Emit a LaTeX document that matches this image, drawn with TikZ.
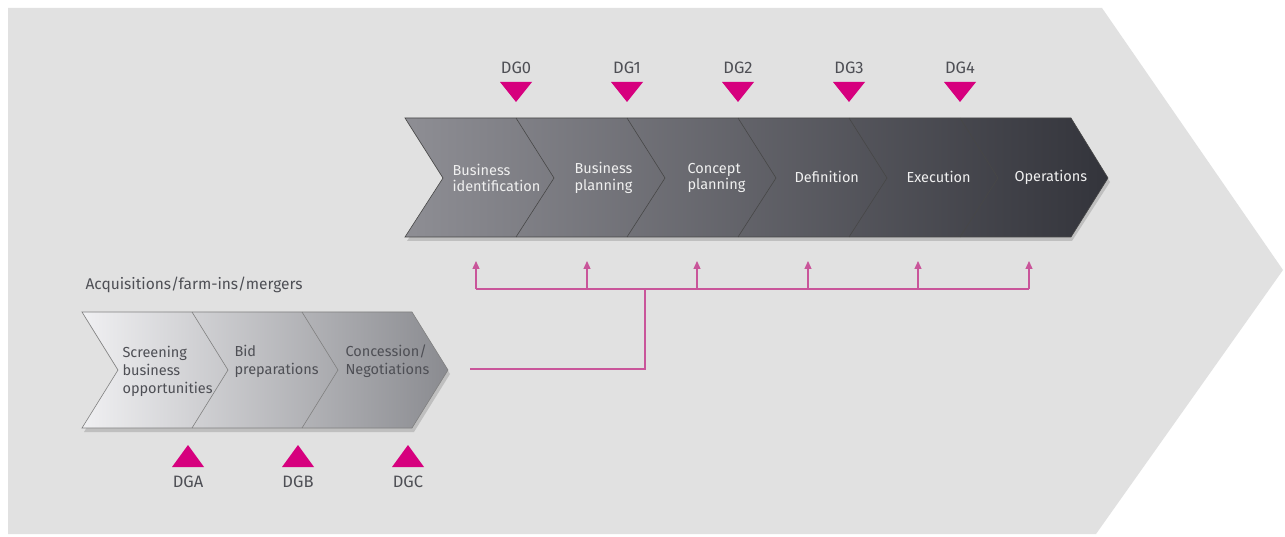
\documentclass[tikz,border=0pt]{standalone}
\usepackage{fontspec}
\setmainfont{Fira Sans}
\usetikzlibrary{arrows.meta,positioning}

\definecolor{bggrey}{HTML}{E1E1E1}
\definecolor{gatepink}{HTML}{D6007E}
\definecolor{linkpink}{HTML}{C9559A}
\definecolor{labelgrey}{HTML}{4E4F55}
\definecolor{upleft}{HTML}{8E8E94}
\definecolor{upright}{HTML}{33343B}
\definecolor{lowleft}{HTML}{F0F0F2}
\definecolor{lowright}{HTML}{8A8B90}

\begin{document}
\begin{tikzpicture}[x=1pt,y=-1pt,
  gate/.style={fill=gatepink},
  gatelabel/.style={text=labelgrey,font=\fontsize{16.5}{18}\selectfont},
  upstep/.style={text=white!94!black,align=left,anchor=west,font=\fontsize{14.5}{16.5}\selectfont},
  lowstep/.style={text=labelgrey,align=left,anchor=west,font=\fontsize{14.5}{18}\selectfont},
  upline/.style={draw=black!72,line width=0.6pt},
  lowline/.style={draw=black!50,line width=0.6pt},
  link/.style={draw=linkpink,line width=1.3pt},
  linkarrow/.style={link,-{Triangle[width=7pt,length=8pt]}}]
  \useasboundingbox (0,0) rectangle (1285,537);
  \fill[white] (0,0) rectangle (1285,537);
  \fill[bggrey] (8,8) -- (1102,8) -- (1283,270) -- (1096,534) -- (8,534) -- cycle;

  % stage-gate chain
  \fill[black,opacity=0.15] (407,122) -- (1072,122) -- (1110,182) -- (1072,241) -- (407,241) -- (445,182) -- cycle;
  \shade[left color=upleft,right color=upright,upline]
    (405,118) -- (1071,118) -- (1108,178) -- (1071,237) -- (405,237) -- (443,178) -- cycle;
  \foreach \x in {516,627,738,849,960}
    \draw[upline] (\x,118) -- ({\x+38},178) -- (\x,237);
  \foreach \x/\n in {516/0,627/1,738/2,849/3,960/4} {
    \node[gatelabel] (dg\n) at (\x,68) {DG\n};
    \fill[gate] ({\x-16},82) -- ({\x+16},82) -- (\x,102) -- cycle;
  }
  \node[upstep] (bi)  at (449,178) {Business\\identification};
  \node[upstep] (bp)  at (571,178) {Business\\planning};
  \node[upstep] (cp)  at (684,178) {Concept\\planning};
  \node[upstep] (def) at (791,177) {Definition};
  \node[upstep] (exe) at (903,177) {Execution};
  \node[upstep] (ops) at (1011,177) {Operations};

  % acquisitions chain
  \node[lowstep,font=\fontsize{15.5}{18}\selectfont] (acq) at (82,285) {Acquisitions/farm-ins/mergers};
  \fill[black,opacity=0.15] (84,316) -- (414,316) -- (450,374) -- (414,432) -- (84,432) -- (120,374) -- cycle;
  \shade[left color=lowleft,right color=lowright,lowline]
    (82,312) -- (412,312) -- (448,370) -- (412,428) -- (82,428) -- (118,370) -- cycle;
  \foreach \x in {192,302}
    \draw[lowline] (\x,312) -- ({\x+36},370) -- (\x,428);
  \foreach \x/\n in {188/A,298/B,408/C} {
    \node[gatelabel] (dg\n) at (\x,482) {DG\n};
    \fill[gate] ({\x-16},467) -- ({\x+16},467) -- (\x,445) -- cycle;
  }
  \node[lowstep] (scr) at (119,371) {Screening\\business\\opportunities};
  \node[lowstep] (bid) at (231,361) {Bid\\preparations};
  \node[lowstep] (con) at (342,361) {Concession/\\Negotiations};

  % links
  \coordinate (tap) at (470,369);
  \coordinate (fork) at (645,289);
  \draw[link] (tap) -| (fork);
  \foreach \x [count=\i] in {476,587,697,808,918,1029} {
    \coordinate (bar\i) at (\x,289);
    \coordinate (in\i) at (\x,261);
    \draw[linkarrow] (bar\i) -- (in\i);
  }
  \draw[link] (bar1) -- (bar6);
\end{tikzpicture}
\end{document}
